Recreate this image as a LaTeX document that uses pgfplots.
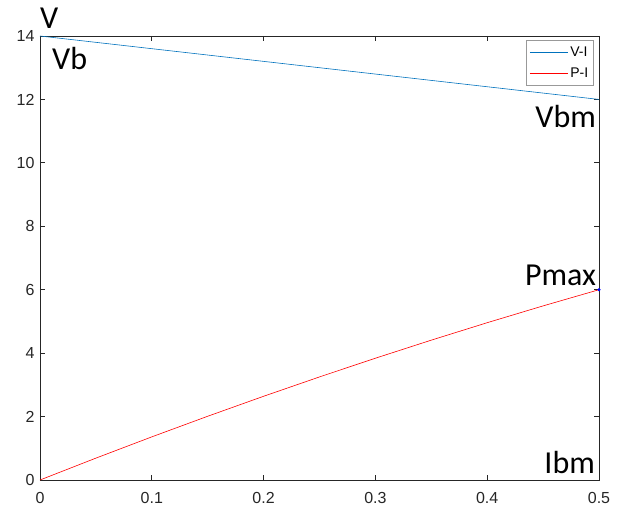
\documentclass[border=0pt]{standalone}
\usepackage{fontspec}
\setmainfont{Liberation Sans}
\newfontfamily\annfont{Carlito}
\usepackage{pgfplots}
\pgfplotsset{compat=1.18}
\usetikzlibrary{calc}
\definecolor{mblue}{rgb}{0,0.447,0.741}
\definecolor{axgray}{RGB}{38,38,38}
\newcommand\tickfont{\fontsize{16}{18}\selectfont}
\newcommand\legfont{\fontsize{14}{16}\selectfont}
\newcommand\annfnt{\annfont\fontsize{32}{34}\selectfont}
\pgfplotsset{
  tick label style={font=\tickfont, text=axgray},
  xticklabel style={yshift=-9pt},
  yticklabel style={xshift=-2pt},
  /pgf/number format/assume math mode=true,
}
\begin{document}
\begin{tikzpicture}
\begin{axis}[
  name=ax,
  scale only axis,
  width=559pt, height=444pt,
  xmin=0, xmax=0.5, ymin=0, ymax=14,
  xtick={0,0.1,0.2,0.3,0.4,0.5},
  ytick={0,2,4,6,8,10,12,14},
  xticklabels={0,0.1,0.2,0.3,0.4,0.5},
  tick align=inside,
  major tick length=5pt,
  axis line style={axgray, line width=0.9pt},
  tick style={axgray, line width=0.9pt},
  clip=false,
  legend style={at={(rel axis cs:0.991,0.991)}, anchor=north east,
    draw=black!40, line width=0.6pt, font=\legfont,
    inner xsep=3.5pt, inner ysep=5pt, row sep=5pt},
  legend cell align=left,
  legend image code/.code={\draw[#1, line width=0.9pt] (0pt,0pt) -- (38pt,0pt);},
]
\addplot[mblue, line width=0.6pt] coordinates {(0,14) (0.5,12)};
\addlegendentry{V-I}
\addplot[red, line width=0.6pt] coordinates {
(0,0) (0.05,0.69) (0.1,1.36) (0.15,2.01) (0.2,2.64) (0.25,3.25)
(0.3,3.84) (0.35,4.41) (0.4,4.96) (0.45,5.49) (0.5,6.0)};
\addlegendentry{P-I}
\addplot[only marks, mark=*, mark size=1.3pt, blue, forget plot] coordinates {(0.5,6)};
\node[anchor=base west, inner sep=0, font=\annfnt] at (axis cs:0,14.25) {V};
\node[anchor=base west, inner sep=0, font=\annfnt] at (axis cs:0.0107,12.93) {Vb};
\node[anchor=base east, inner sep=0, font=\annfnt] at (axis cs:0.4975,11.13) {Vbm};
\node[anchor=base east, inner sep=0, font=\annfnt] at (axis cs:0.4975,6.12) {Pmax};
\node[anchor=base east, inner sep=0, font=\annfnt] at (axis cs:0.4965,0.22) {Ibm};
\end{axis}
\pgfresetboundingbox
\path ($(ax.south west)+(-40pt,-29pt)$) rectangle ($(ax.north east)+(19pt,36pt)$);
\end{tikzpicture}
\end{document}
